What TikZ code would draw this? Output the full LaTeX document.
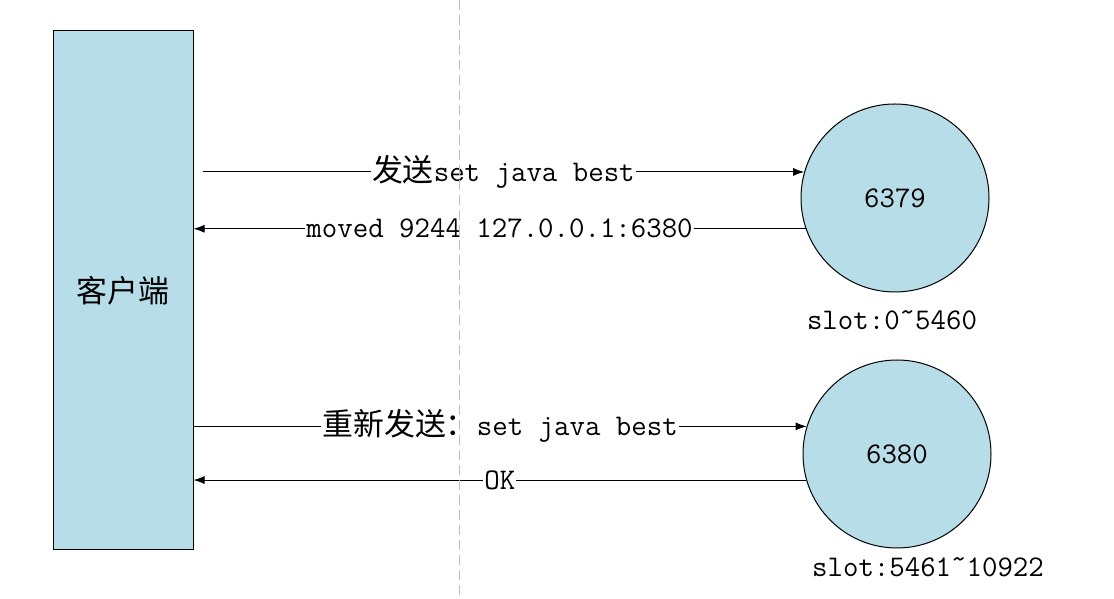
\documentclass[tikz,border=0pt]{standalone}
\usepackage{fontspec}
\newfontfamily\cjk[Scale=1.03]{Noto Sans CJK SC}
\usetikzlibrary{arrows.meta,calc}
\definecolor{boxblue}{HTML}{B7DDE8}
\definecolor{dashgray}{HTML}{BFBFBF}
\newcommand{\hitilde}{\raisebox{0.28em}{\textasciitilde}}
\begin{document}
\begin{tikzpicture}[x=1pt,y=1pt,
  every node/.style={font=\fontsize{30}{36}\selectfont\ttfamily},
  shapebox/.style={draw=black,fill=boxblue,line width=1pt},
  arr/.style={draw=black,line width=0.9pt,-{Latex[length=11pt,width=8pt]}},
  lbl/.style={fill=white,inner xsep=1pt,inner ysep=2pt,midway}]
\useasboundingbox (0,0) rectangle (1114,599);
\node[shapebox,rectangle,minimum width=140pt,minimum height=519pt,inner sep=0pt] (client) at (123,308.5) {\cjk 客户端};
\node[shapebox,circle,minimum size=188pt,inner sep=0pt] (c1) at (895,401) {6379};
\node[shapebox,circle,minimum size=188pt,inner sep=0pt] (c2) at (897,145) {6380};
\node (s1lbl) at (892,279) {slot:0\hitilde5460};
\node (s2lbl) at (928,32) {slot:5461\hitilde10922};
\path (client.east |- c1.164) ++(9pt,0) coordinate (a1start);
\draw[arr] (a1start) -- (c1.164) node[lbl] {{\cjk 发送}set java best};
\draw[arr] (c1.199) -- (client.east |- c1.199) node[lbl] {moved 9244 127.0.0.1:6380};
\draw[arr] (client.east |- c2.163) -- (c2.163) node[lbl] {{\cjk 重新发送：}set java best};
\draw[arr] (c2.196) -- (client.east |- c2.196) node[lbl] {OK};
\coordinate (dtop) at (459,599);
\coordinate (dbot) at (459,0);
\draw[dashgray,line width=1pt,dash pattern=on 10pt off 5pt] (dtop) -- (dbot);
\end{tikzpicture}
\end{document}
